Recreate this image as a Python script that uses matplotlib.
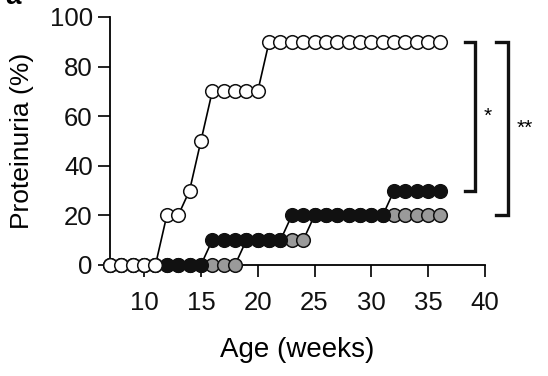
import matplotlib
matplotlib.use("Agg")
import matplotlib.pyplot as plt

plt.rcParams['font.family'] = ['Liberation Sans', 'DejaVu Sans']

# weeks of age, one value per week
weeks = list(range(7, 37))

# proteinuria (%) for each group
white_vals = [0, 0, 0, 0, 0, 20, 20, 30, 50, 70, 70, 70, 70, 70,
              90, 90, 90, 90, 90, 90, 90, 90, 90, 90, 90, 90, 90, 90, 90, 90]
black_vals = [0, 0, 0, 0, 0, 0, 0, 0, 0, 10, 10, 10, 10, 10, 10, 10,
              20, 20, 20, 20, 20, 20, 20, 20, 20, 30, 30, 30, 30, 30]
grey_vals = [0, 0, 0, 0, 0, 0, 0, 0, 0, 0, 0, 0, 10, 10, 10, 10, 10, 10,
             20, 20, 20, 20, 20, 20, 20, 20, 20, 20, 20, 20]

x_ticks = [10, 15, 20, 25, 30, 35, 40]
y_ticks = [0, 20, 40, 60, 80, 100]

fig = plt.figure(figsize=(5.48, 3.76), dpi=100)
ax = fig.add_axes([110 / 548, 1 - 265 / 376, 375 / 548, 248 / 376])

ms = 9.8
style = dict(color='black', lw=1.2, marker='o', markersize=ms,
             markeredgecolor='#111111', markeredgewidth=1.1, clip_on=False)
ax.plot(weeks, grey_vals, markerfacecolor='#9a9a9a', zorder=3, **style)
ax.plot(weeks, black_vals, markerfacecolor='#111111', zorder=4, **style)
ax.plot(weeks, white_vals, markerfacecolor='white', zorder=5, **style)

ax.set_xlim(7, 40)
ax.set_ylim(0, 100)
ax.set_xticks(x_ticks)
ax.set_yticks(y_ticks)
for s in ['top', 'right']:
    ax.spines[s].set_visible(False)
for s in ['left', 'bottom']:
    ax.spines[s].set_linewidth(1.3)
ax.tick_params(axis='both', labelsize=18.5, length=8.5, width=1.3, colors='#111111')
ax.tick_params(axis='x', pad=10)
ax.tick_params(axis='y', pad=4)

ax.set_xlabel('Age (weeks)', fontsize=20, labelpad=16)
ax.set_ylabel('Proteinuria (%)', fontsize=19, labelpad=11)

# significance brackets
def bracket(x, y0, y1, arm, text, tx):
    ax.plot([x - arm, x, x, x - arm], [y1, y1, y0, y0], color='#111111',
            lw=2.4, clip_on=False, solid_joinstyle='miter')
    ax.text(tx, (y0 + y1) / 2, text, fontsize=15, ha='center', va='center',
            clip_on=False)

bracket(39.1, 30, 90, 0.9, '*', 40.2)
bracket(42.0, 20, 90, 1.0, '**', 43.5)

fig.text(5 / 548, 1 - 4 / 376, 'a', fontsize=20, fontweight='bold', va='baseline')

fig.savefig('out.png', dpi=100)
